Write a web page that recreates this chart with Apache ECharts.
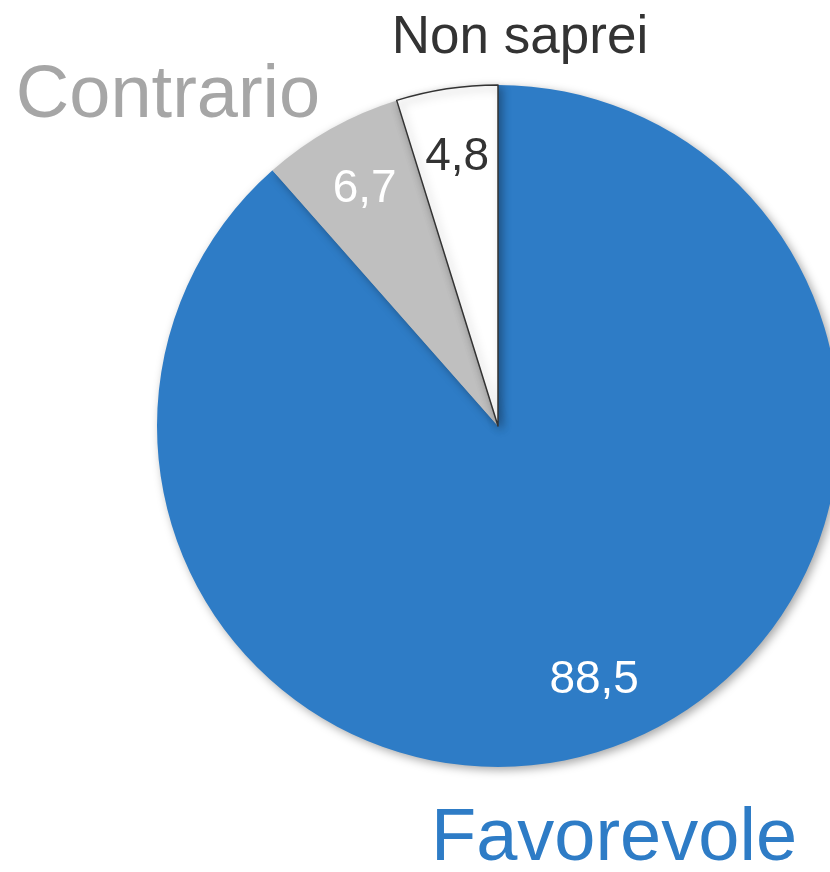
<!DOCTYPE html>
<html>
<head>
<meta charset="utf-8">
<script src="https://cdn.jsdelivr.net/npm/echarts@6/dist/echarts.min.js"></script>
<style>
  html, body { margin: 0; padding: 0; background: #fff; }
  #pieChart { width: 830px; height: 872px; }
</style>
</head>
<body>
<div id="pieChart"></div>
<script>
const categories = ["Favorevole", "Contrario", "Non saprei"];
const values = [88.5, 6.7, 4.8];
const sliceColors = ["#2e7cc6", "#bfbfbf", "#ffffff"];
const valueColors = ["#ffffff", "#ffffff", "#333333"];
const nameColors = ["#2e7cc6", "#a6a6a6", "#333333"];

const font = "Liberation Sans, Arial, Helvetica, sans-serif";
const center = [498, 426];

const pieData = categories.map((name, i) => ({
  name: name,
  value: values[i],
  itemStyle: {
    color: sliceColors[i],
    borderColor: i === 2 ? "#333333" : sliceColors[i],
    borderWidth: i === 2 ? 1.5 : 0,
  },
}));

// invisible ring only used to put the numbers at ~0.8 of the radius
const labelData = categories.map((name, i) => ({
  name: name,
  value: values[i],
  label: { color: valueColors[i] },
}));

const chart = echarts.init(document.getElementById("pieChart"));
chart.setOption({
  animation: false,
  series: [
    {
      type: "pie",
      center: center,
      radius: [0, 341],
      startAngle: 90,
      clockwise: true,
      silent: true,
      label: { show: false },
      labelLine: { show: false },
      itemStyle: {
        shadowBlur: 10,
        shadowColor: "rgba(0,0,0,0.35)",
        shadowOffsetX: 3,
        shadowOffsetY: 3,
      },
      data: pieData,
    },
    {
      type: "pie",
      center: center,
      radius: [197, 341],
      startAngle: 90,
      clockwise: true,
      silent: true,
      itemStyle: { color: "transparent" },
      label: {
        show: true,
        position: "inside",
        fontFamily: font,
        fontSize: 46,
        formatter: (p) => String(p.value).replace(".", ","),
      },
      labelLine: { show: false },
      data: labelData,
    },
  ],
  graphic: [
    {
      type: "text",
      style: {
        text: categories[2], x: 520, y: 38,
        fill: nameColors[2], font: "53px " + font,
        textAlign: "center", textVerticalAlign: "middle",
      },
    },
    {
      type: "text",
      style: {
        text: categories[1], x: 168, y: 97,
        fill: nameColors[1], font: "74px " + font,
        textAlign: "center", textVerticalAlign: "middle",
      },
    },
    {
      type: "text",
      style: {
        text: categories[0], x: 614, y: 840,
        fill: nameColors[0], font: "74px " + font,
        textAlign: "center", textVerticalAlign: "middle",
      },
    },
  ],
});
</script>
</body>
</html>
